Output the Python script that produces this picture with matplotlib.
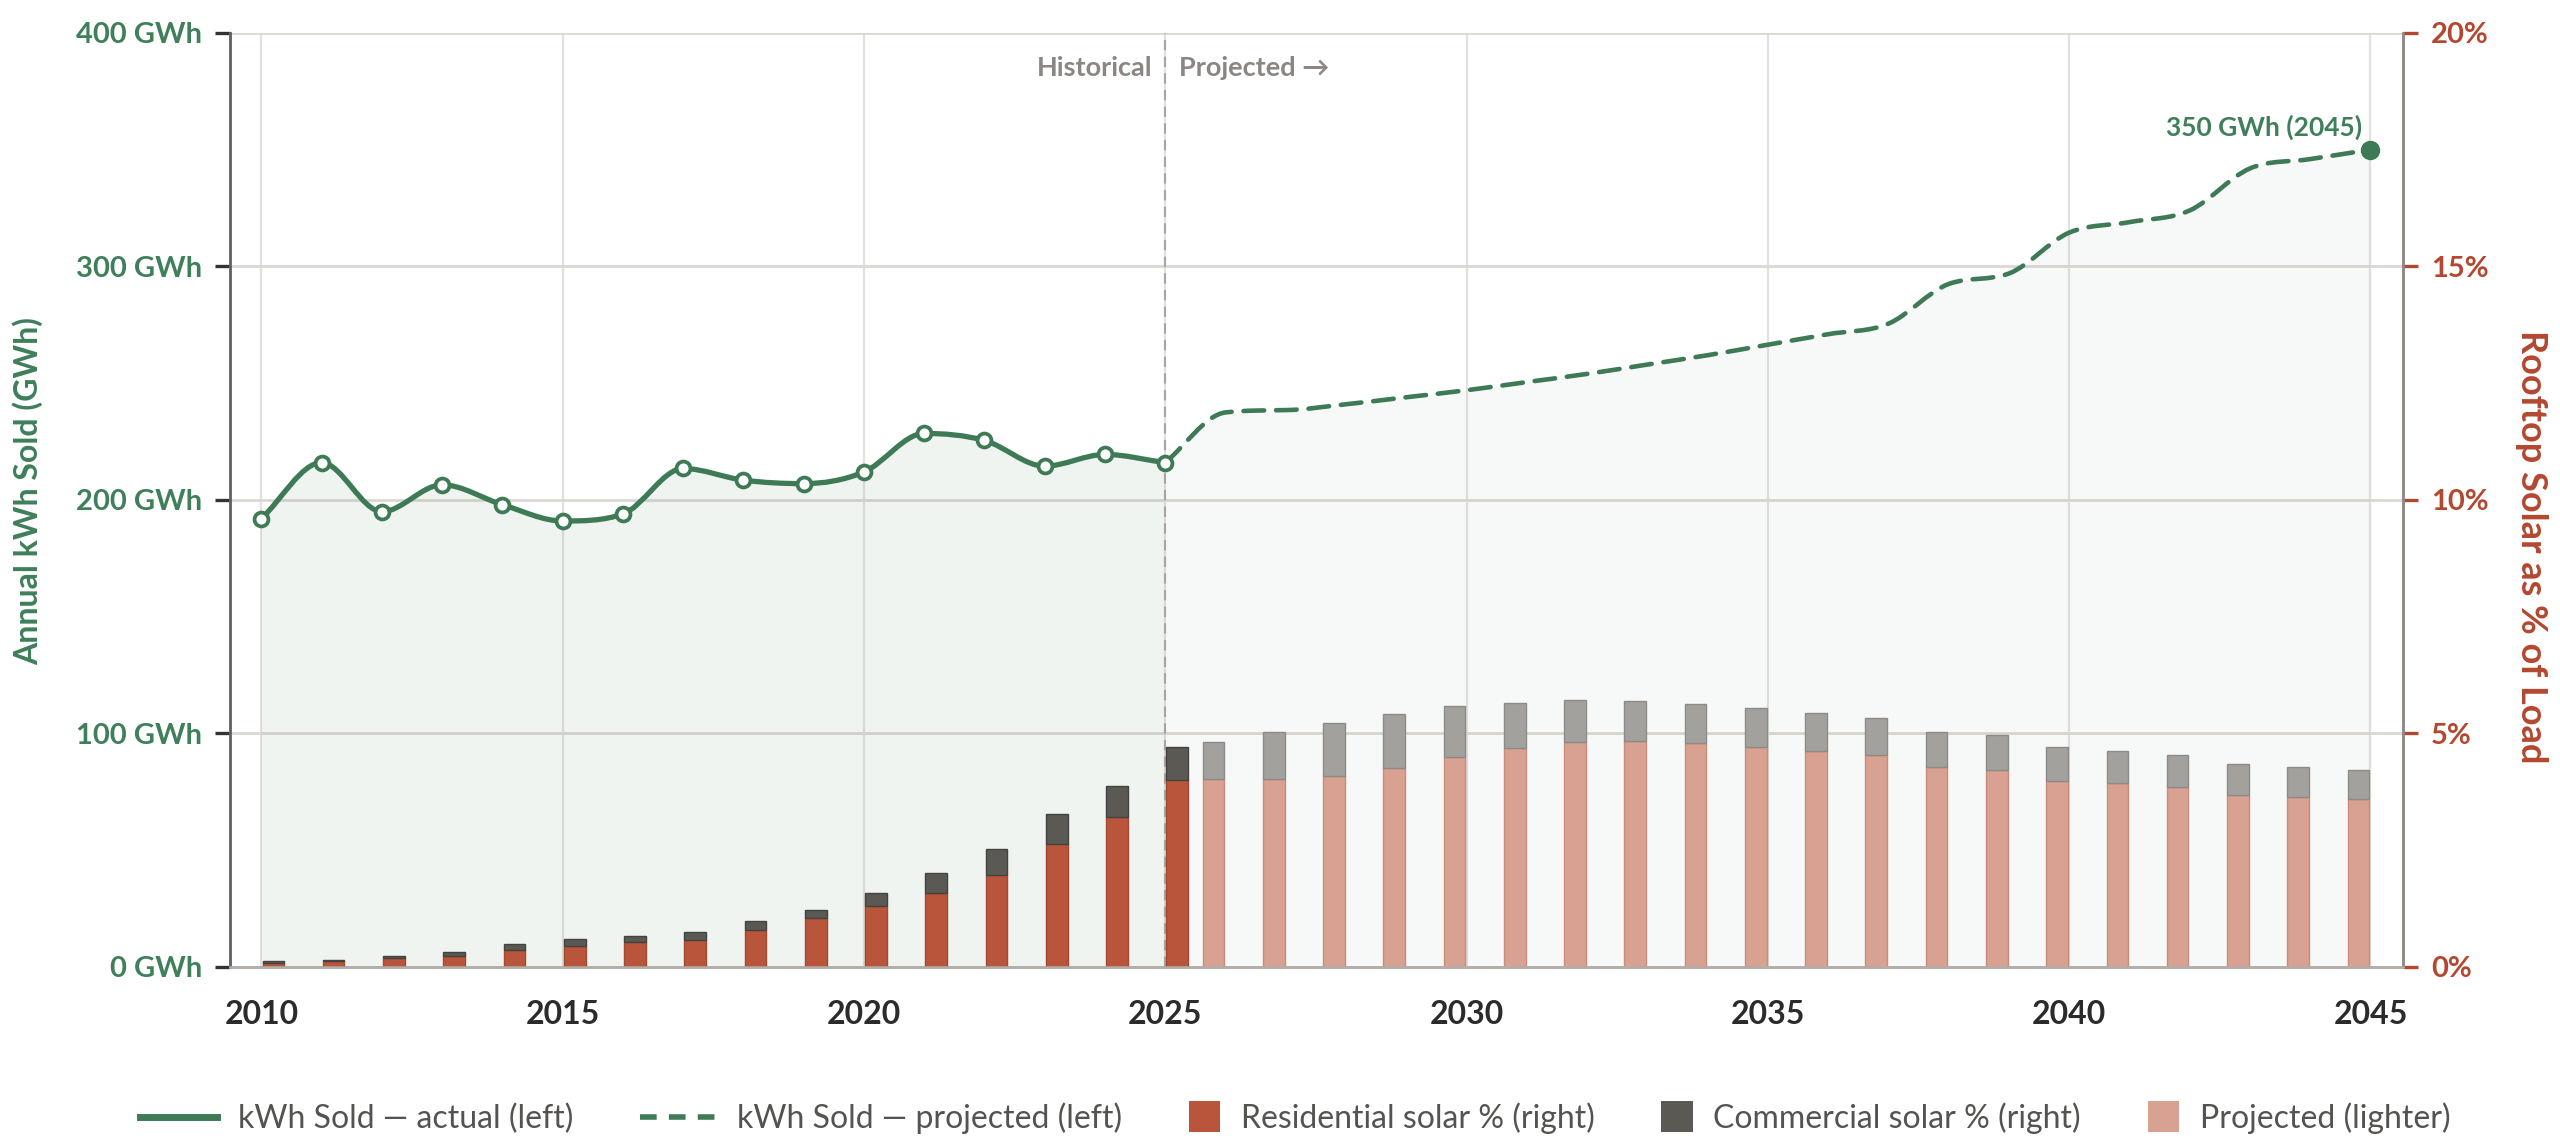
import numpy as np
import matplotlib
matplotlib.use('Agg')
import matplotlib.pyplot as plt
from matplotlib.path import Path
from matplotlib.patches import PathPatch, Rectangle
from matplotlib.lines import Line2D
from matplotlib.legend_handler import HandlerPatch

plt.rcParams['font.family'] = ['Lato', 'DejaVu Sans']

# ---------------- data ----------------
hist_years = list(range(2010, 2026))
hist_kwh = [192, 216, 195, 206.5, 198, 191, 194, 213.5, 208.5, 207, 212,
            228.5, 225.5, 214.5, 219.5, 216]
proj_years = list(range(2025, 2046))
proj_kwh = [216, 237.5, 238.5, 241, 244, 247, 250.5, 254, 258, 262, 266.5,
            271, 275.5, 292.5, 297, 314.5, 319, 324, 342, 346, 350]

hist_res = [0.09, 0.12, 0.19, 0.24, 0.36, 0.45, 0.54, 0.57, 0.79, 1.04, 1.31,
            1.59, 1.96, 2.64, 3.21, 4.00]
hist_com = [0.04, 0.04, 0.05, 0.09, 0.14, 0.16, 0.12, 0.18, 0.19, 0.19, 0.28,
            0.43, 0.57, 0.64, 0.66, 0.71]
pbar_years = list(range(2026, 2046))
proj_res = [4.02, 4.02, 4.09, 4.26, 4.50, 4.68, 4.82, 4.84, 4.79, 4.71, 4.63,
            4.55, 4.29, 4.21, 3.99, 3.94, 3.86, 3.69, 3.63, 3.59]
proj_com = [0.80, 1.02, 1.14, 1.15, 1.08, 0.98, 0.89, 0.85, 0.85, 0.83, 0.81,
            0.78, 0.75, 0.75, 0.72, 0.68, 0.68, 0.65, 0.66, 0.63]

left_ticks = [0, 100, 200, 300, 400]
right_ticks = [0, 5, 10, 15, 20]
x_ticks = [2010, 2015, 2020, 2025, 2030, 2035, 2040, 2045]

# ---------------- styles ----------------
GREEN = '#3d7a55'
GREEN_TXT = '#3f7f5a'
RED_TXT = '#b4472f'
RES = '#b9553b'
RES_EDGE = '#a04a33'
COM = '#5b5954'
COM_EDGE = '#45433f'
RES_P = '#d9a191'
RES_P_EDGE = '#c98c7b'
COM_P = '#a3a19d'
COM_P_EDGE = '#8d8b87'
GRID = '#dcd8d3'
GREY_TXT = '#8c8683'


def monotone_path(x, y):
    x = np.asarray(x, float)
    y = np.asarray(y, float)
    n = len(x)
    h = np.diff(x)
    d = np.diff(y) / h
    m = np.zeros(n)
    m[0] = d[0]
    m[-1] = d[-1]
    for k in range(1, n - 1):
        m[k] = (d[k - 1] + d[k]) / 2 if d[k - 1] * d[k] > 0 else 0.0
    for k in range(n - 1):
        if d[k] == 0:
            m[k] = m[k + 1] = 0.0
            continue
        a = m[k] / d[k]
        b = m[k + 1] / d[k]
        s = a * a + b * b
        if s > 9:
            t = 3 / np.sqrt(s)
            m[k] = t * a * d[k]
            m[k + 1] = t * b * d[k]
    verts = [(x[0], y[0])]
    codes = [Path.MOVETO]
    for k in range(n - 1):
        verts += [(x[k] + h[k] / 3, y[k] + m[k] * h[k] / 3),
                  (x[k + 1] - h[k] / 3, y[k + 1] - m[k + 1] * h[k] / 3),
                  (x[k + 1], y[k + 1])]
        codes += [Path.CURVE4] * 3
    return verts, codes


fig = plt.figure(figsize=(25.6, 11.48), dpi=100)
fig.patch.set_facecolor('white')
ax = fig.add_axes([0.08984, 0.15767, 0.84883, 0.81359])
ax2 = ax.twinx()

ax.set_xlim(2009.48, 2045.54)
ax.set_ylim(0, 400)
ax2.set_ylim(0, 20)

# grid
ax.set_axisbelow(True)
ax.set_yticks(left_ticks)
ax.set_xticks(x_ticks)
ax.grid(axis='y', color=GRID, lw=2.0)
ax.grid(axis='x', color='#e4e1dd', lw=1.6)

# area fills + lines (left axis)
for yrs, vals, alpha, ls, lw in [(hist_years, hist_kwh, 0.08, '-', 3.8),
                                 (proj_years, proj_kwh, 0.04, (0, (4.5, 2.6)), 3.3)]:
    v, c = monotone_path(yrs, vals)
    fv = v + [(yrs[-1], 0), (yrs[0], 0), (yrs[0], vals[0])]
    fc = c + [Path.LINETO, Path.LINETO, Path.CLOSEPOLY]
    ax.add_patch(PathPatch(Path(fv, fc), facecolor=GREEN, alpha=alpha,
                           edgecolor='none', zorder=1))
    ax.add_patch(PathPatch(Path(v, c), facecolor='none', edgecolor=GREEN,
                           lw=lw, linestyle=ls, capstyle='round',
                           joinstyle='round', zorder=4))

ax.plot(hist_years, hist_kwh, 'o', ls='none', mfc='white', mec=GREEN,
        ms=10, mew=2.7, zorder=5)
ax.plot(proj_years[-1:], proj_kwh[-1:], 'o', ls='none', color=GREEN,
        ms=13, zorder=5)
ax.annotate(f'{proj_kwh[-1]:.0f} GWh ({proj_years[-1]})',
            xy=(proj_years[-1], proj_kwh[-1]), xytext=(-6, 16),
            textcoords='offset points', ha='right', va='center',
            fontsize=19, fontweight='bold', color=GREEN_TXT, zorder=6)

# divider
ax.axvline(2025, color='#aaa5a2', lw=1.5, ls=(0, (5, 3)), zorder=3)
ax.annotate('Historical', xy=(2025, 0.9625), xycoords=ax.get_xaxis_transform(),
            xytext=(-9.5, 0), textcoords='offset points', ha='right',
            va='center', fontsize=19.5, fontweight='bold', color=GREY_TXT)
ax.annotate('Projected →', xy=(2025, 0.9625), xycoords=ax.get_xaxis_transform(),
            xytext=(10, 0), textcoords='offset points', ha='left',
            va='center', fontsize=19.5, fontweight='bold', color=GREY_TXT)

# bars (right axis)
W = 0.36
hx = np.array(hist_years) + 0.2
px = np.array(pbar_years) - 0.2
ax2.bar(hx, hist_res, W, color=RES, edgecolor=RES_EDGE, lw=1, zorder=2)
ax2.bar(hx, hist_com, W, bottom=hist_res, color=COM, edgecolor=COM_EDGE, lw=1,
        zorder=2)
ax2.bar(px, proj_res, W, color=RES_P, edgecolor=RES_P_EDGE, lw=1, zorder=2)
ax2.bar(px, proj_com, W, bottom=proj_res, color=COM_P, edgecolor=COM_P_EDGE,
        lw=1, zorder=2)

# ticks
ax.set_yticklabels([f'{t} GWh' for t in left_ticks])
ax.set_xticklabels([str(t) for t in x_ticks])
ax2.set_yticks(right_ticks)
ax2.set_yticklabels([f'{t}%' for t in right_ticks])
ax.tick_params(axis='y', length=11, width=2.4, color='#333333', pad=9,
               labelsize=21, labelcolor=GREEN_TXT)
ax.tick_params(axis='x', length=0, pad=24, labelsize=23, labelcolor='#2b2b2b')
ax2.tick_params(axis='y', length=11, width=2.4, color=RED_TXT, pad=9,
                labelsize=21, labelcolor=RED_TXT)
for lab in ax.get_yticklabels() + ax.get_xticklabels() + ax2.get_yticklabels():
    lab.set_fontweight('bold')

# spines
for a in (ax, ax2):
    a.spines['top'].set_visible(False)
    a.spines['left'].set_color('#666360')
    a.spines['right'].set_color('#8e8a86')
    a.spines['bottom'].set_color('#b3aea9')
    for s in ('left', 'right', 'bottom'):
        a.spines[s].set_linewidth(1.8)

ax.set_ylabel('Annual kWh Sold (GWh)', fontsize=23, fontweight='bold',
              color=GREEN_TXT)
ax.yaxis.set_label_coords(-0.093, 0.51)
ax.yaxis.label.set_va('center')
ax2.set_ylabel('Rooftop Solar as % of Load', fontsize=26, fontweight='bold',
               color=RED_TXT, rotation=270)
ax2.yaxis.set_label_coords(1.059, 0.45)
ax2.yaxis.label.set_va('center')


# legend
class SquareHandler(HandlerPatch):
    def legend_artist(self, legend, orig_handle, fontsize, handlebox):
        size = 22.5
        handlebox.width = size
        h = handlebox.height
        rect = Rectangle((-handlebox.xdescent, -handlebox.ydescent + h / 2 - size / 2),
                         size, size, facecolor=orig_handle.get_facecolor(),
                         edgecolor='none')
        handlebox.add_artist(rect)
        return rect


handles = [
    Line2D([], [], color=GREEN, lw=5),
    Line2D([], [], color=GREEN, lw=4, ls=(0, (3.0, 2.2))),
    Rectangle((0, 0), 1, 1, facecolor=RES),
    Rectangle((0, 0), 1, 1, facecolor=COM),
    Rectangle((0, 0), 1, 1, facecolor=RES_P),
]
labels = ['kWh Sold — actual (left)', 'kWh Sold — projected (left)',
          'Residential solar % (right)', 'Commercial solar % (right)',
          'Projected (lighter)']
LFS = 23
leg = fig.legend(handles, labels, loc='center', bbox_to_anchor=(0.506, 0.026),
                 ncol=5, frameon=False, fontsize=LFS, handlelength=55 / LFS,
                 handletextpad=15 / LFS, columnspacing=48 / LFS,
                 handler_map={Rectangle: SquareHandler()})
for t in leg.get_texts():
    t.set_color('#555350')

fig.savefig('out.png', dpi=100, facecolor='white')
